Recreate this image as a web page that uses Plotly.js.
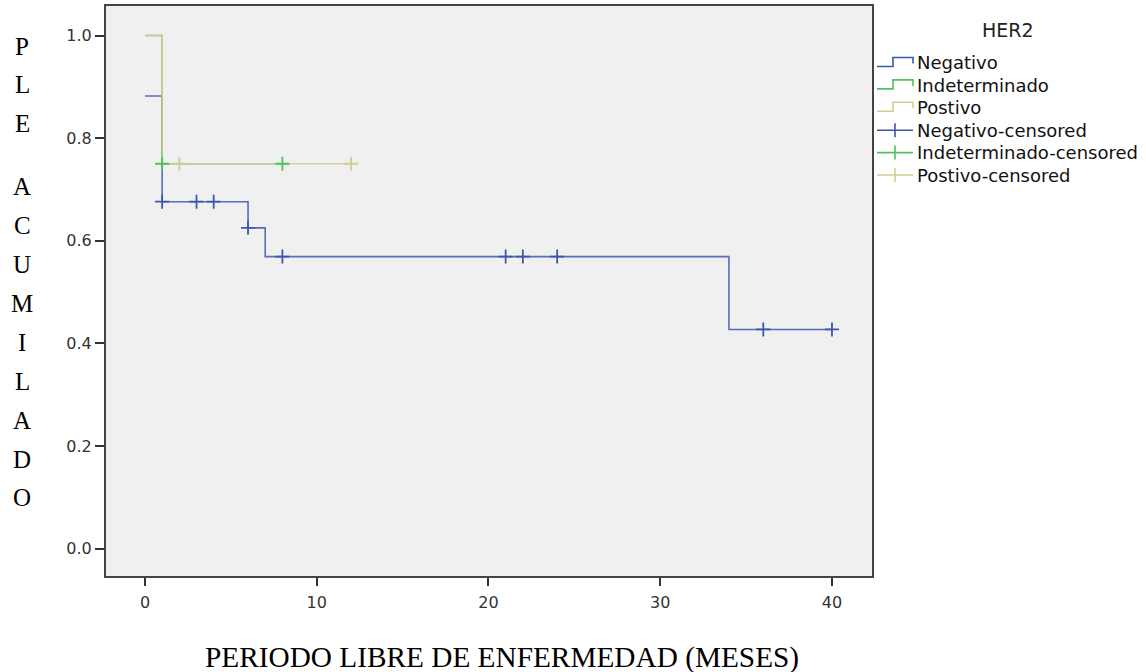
<!DOCTYPE html>
<html>
<head>
<meta charset="utf-8">
<script src="https://cdn.plot.ly/plotly-3.0.1.min.js"></script>
<style>html,body{margin:0;padding:0;background:#fff;}#chart{width:1146px;height:672px;}</style>
</head>
<body>
<div id="chart"></div>
<script>
// ---- data ----
const negTimes = [0, 1, 6, 7, 34, 40];
const negSurv  = [0.882, 0.676, 0.625, 0.569, 0.427, 0.427];
const indTimes = [0, 1, 8];
const indSurv  = [1.0, 0.75, 0.75];
const posTimes = [0, 1, 12];
const posSurv  = [1.0, 0.75, 0.75];
const negCensTimes = [1, 3, 4, 6, 8, 21, 22, 24, 36, 40];
const negCensSurv  = [0.676, 0.676, 0.676, 0.625, 0.569, 0.569, 0.569, 0.569, 0.427, 0.427];
const indCensTimes = [1, 8];
const indCensSurv  = [0.75, 0.75];
const posCensTimes = [2, 12];
const posCensSurv  = [0.75, 0.75];
const xTicks = [0, 10, 20, 30, 40];
const yTicks = [0.0, 0.2, 0.4, 0.6, 0.8, 1.0];
const yTickText = ['0.0', '0.2', '0.4', '0.6', '0.8', '1.0'];
const seriesNames = ['Negativo', 'Indeterminado', 'Postivo'];
const legendLabels = ['Negativo', 'Indeterminado', 'Postivo', 'Negativo-censored', 'Indeterminado-censored', 'Postivo-censored'];
const yTitleLetters = ['P','L','E','','A','C','U','M','I','L','A','D','O'];
const xTitle = 'PERIODO LIBRE DE ENFERMEDAD (MESES)';
const legendTitle = 'HER2';

const colors = ['#3d57ab', '#4fc25c', '#d3cc92'];

function stepTrace(t, s, i) {
  return { x: t, y: s, type: 'scatter', mode: 'lines', name: seriesNames[i], showlegend: false,
    line: { shape: 'hv', color: colors[i], width: 1.6 }, opacity: 0.85, hoverinfo: 'x+y' };
}
function censTrace(t, s, i) {
  return { x: t, y: s, type: 'scatter', mode: 'markers', name: seriesNames[i] + '-censored', showlegend: false,
    marker: { symbol: 'cross-thin', size: 10, color: colors[i], line: { color: colors[i], width: 1.8 } } };
}

const data = [
  stepTrace(negTimes, negSurv, 0),
  stepTrace(indTimes, indSurv, 1),
  stepTrace(posTimes, posSurv, 2),
  censTrace(negCensTimes, negCensSurv, 0),
  censTrace(indCensTimes, indCensSurv, 1),
  censTrace(posCensTimes, posCensSurv, 2)
];

// layout geometry (pixels)
const W = 1146, H = 672, L = 106, R = 872, T = 6, B = 576;
const px2x = p => (p - L) / (R - L);
const px2y = p => (B - p) / (B - T);

const annotations = [];
const shapes = [];
// vertical stacked y title
let yy = 46;
yTitleLetters.forEach((ch, i) => {
  if (ch) annotations.push({ text: ch, xref: 'paper', yref: 'paper', x: px2x(22), y: px2y(yy),
    xanchor: 'center', yanchor: 'middle', showarrow: false,
    font: { family: 'Liberation Serif, Times New Roman, serif', size: 25, color: '#000' } });
  yy += (i === 2) ? 24 : (i === 3 ? 39 : 38.9);
});
annotations.push({ text: xTitle, xref: 'paper', yref: 'paper', x: px2x(501.5), y: px2y(657),
  xanchor: 'center', yanchor: 'middle', showarrow: false,
  font: { family: 'Liberation Serif, Times New Roman, serif', size: 29.3, color: '#000' } });

// custom legend (SPSS style)
annotations.push({ text: legendTitle, xref: 'paper', yref: 'paper', x: px2x(1008), y: px2y(30),
  xanchor: 'center', yanchor: 'middle', showarrow: false,
  font: { family: 'DejaVu Sans, sans-serif', size: 19, color: '#222' } });
const legFont = { family: 'DejaVu Sans, sans-serif', size: 18, color: '#111' };
legendLabels.forEach((lab, k) => {
  const cy = 63 + k * 22.4;
  const col = colors[k % 3];
  annotations.push({ text: lab, xref: 'paper', yref: 'paper', x: px2x(915), y: px2y(cy),
    xanchor: 'left', yanchor: 'middle', showarrow: false, font: legFont });
  const X = px2x, Y = px2y;
  if (k < 3) {
    const p = `M ${X(877)},${Y(cy + 3.5)} L ${X(893)},${Y(cy + 3.5)} L ${X(893)},${Y(cy - 5.5)} L ${X(913)},${Y(cy - 5.5)} L ${X(913)},${Y(cy + 0.5)}`;
    shapes.push({ type: 'path', xref: 'paper', yref: 'paper', path: p, line: { color: col, width: 1.6 } });
  } else {
    shapes.push({ type: 'line', xref: 'paper', yref: 'paper', x0: X(877), x1: X(913), y0: Y(cy), y1: Y(cy), line: { color: col, width: 1.6 } });
    shapes.push({ type: 'line', xref: 'paper', yref: 'paper', x0: X(895), x1: X(895), y0: Y(cy - 7), y1: Y(cy + 7), line: { color: col, width: 1.6 } });
  }
});

const layout = {
  width: W, height: H,
  margin: { l: L, r: W - R, t: T, b: H - B, pad: 0 },
  paper_bgcolor: '#ffffff', plot_bgcolor: '#f0f0f0',
  showlegend: false,
  xaxis: { range: [-2.27, 42.33], tickvals: xTicks, ticktext: xTicks.map(String), ticks: 'outside', ticklen: 8, tickwidth: 2, tickcolor: '#333',
    ticklabelstandoff: 3,
    showgrid: false, zeroline: false, showline: true, mirror: true, linecolor: '#444', linewidth: 2,
    tickfont: { family: 'DejaVu Sans, sans-serif', size: 16, color: '#333' } },
  yaxis: { range: [-0.0536, 1.0575], tickvals: yTicks, ticktext: yTickText, ticks: 'outside', ticklen: 9, tickwidth: 2, tickcolor: '#333',
    showgrid: false, zeroline: false, showline: true, mirror: true, linecolor: '#444', linewidth: 2,
    tickfont: { family: 'DejaVu Sans, sans-serif', size: 16, color: '#333' } },
  annotations: annotations,
  shapes: shapes
};

Plotly.newPlot('chart', data, layout, { displayModeBar: false, staticPlot: true });
</script>
</body>
</html>
